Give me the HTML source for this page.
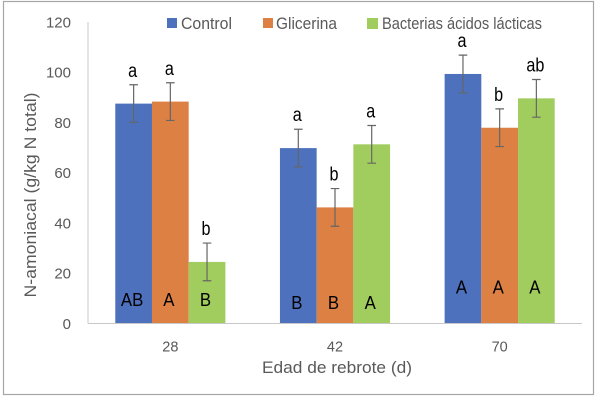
<!DOCTYPE html>
<html lang="es">
<head>
<meta charset="utf-8">
<title>N-amoniacal por edad de rebrote</title>
<style>
html,body{margin:0;padding:0;background:#fff;}
svg{display:block;font-family:"Liberation Sans",sans-serif;filter:blur(0.35px);}
</style>
</head>
<body>
<svg id="chart" xmlns="http://www.w3.org/2000/svg" width="600" height="400" viewBox="0 0 600 400">
  <rect x="3.5" y="1.5" width="590" height="393" fill="#fff" stroke="#a6a6a6" stroke-width="1.2"/>
  <text transform="translate(36,195) rotate(-90)" text-anchor="middle" font-size="16.5" fill="#595959" textLength="205" lengthAdjust="spacingAndGlyphs">N-amoniacal (g/kg N total)</text>
  <text x="337" y="373" text-anchor="middle" font-size="17" fill="#595959" textLength="150" lengthAdjust="spacingAndGlyphs">Edad de rebrote (d)</text>
  <rect x="167" y="18" width="10" height="10" fill="#4e71bd"/>
  <text x="181" y="29" font-size="16.5" fill="#595959" textLength="51" lengthAdjust="spacingAndGlyphs">Control</text>
  <rect x="263" y="18" width="10" height="10" fill="#dd8044"/>
  <text x="276" y="29" font-size="16.5" fill="#595959" textLength="61" lengthAdjust="spacingAndGlyphs">Glicerina</text>
  <rect x="367" y="18" width="11" height="11" fill="#a1cd5f"/>
  <text x="382" y="29" font-size="16.5" fill="#595959" textLength="160" lengthAdjust="spacingAndGlyphs">Bacterias ácidos lácticas</text>
  <g id="plot"></g>
</svg>
<script>
const categories = ['28', '42', '70'];
const yTicks = [0, 20, 40, 60, 80, 100, 120];
const seriesNames = ['control', 'glicerina', 'bacterias'];
const seriesColors = ['#4e71bd', '#dd8044', '#a1cd5f'];
const controlValues = [87.5, 69.8, 99.3];
const glicerinaValues = [88.3, 46.2, 77.9];
const bacteriasValues = [24.5, 71.3, 89.6];
const errorValues = [7.5, 7.5, 7.5];
const controlUpperLetters = ['a', 'a', 'a'];
const glicerinaUpperLetters = ['a', 'b', 'b'];
const bacteriasUpperLetters = ['b', 'a', 'ab'];
const controlLowerLetters = ['AB', 'B', 'A'];
const glicerinaLowerLetters = ['A', 'B', 'A'];
const bacteriasLowerLetters = ['B', 'A', 'A'];
const seriesValues = [controlValues, glicerinaValues, bacteriasValues];
const upperLetters = [controlUpperLetters, glicerinaUpperLetters, bacteriasUpperLetters];
const lowerLetters = [controlLowerLetters, glicerinaLowerLetters, bacteriasLowerLetters];

const plot = document.getElementById('plot');
const NS = 'http://www.w3.org/2000/svg';
const axisLeft = 88, axisRight = 582, baseY = 323.5, pxPerUnit = 2.513, barWidth = 36.7;
const yScale = v => baseY - v * pxPerUnit;
const groupCenter = i => axisLeft + (axisRight - axisLeft) * (i + 0.5) / categories.length;
const barLeft = (i, s) => groupCenter(i) - barWidth * seriesValues.length / 2 + s * barWidth;
const lowerBaseline = i => (i === 0 ? 306 : i === 1 ? 309 : 293.5);

function make(tag, attrs, parent, text) {
  const el = document.createElementNS(NS, tag);
  for (const k in attrs) el.setAttribute(k, attrs[k]);
  if (text !== undefined) el.textContent = text;
  parent.appendChild(el);
  return el;
}

const yAxis = make('line', {x1: axisLeft, x2: axisLeft, y1: yScale(120), y2: baseY, stroke: '#c8c8c8', 'stroke-width': 1}, plot);



yTicks.forEach(t => {
  const label = make('text', {x: 71, y: yScale(t) + 5.5, 'text-anchor': 'end', 'font-size': 15, fill: '#595959'}, plot, String(t));
  
  
});

categories.forEach((c, i) => {
  const label = make('text', {x: groupCenter(i), y: 351.5, 'text-anchor': 'middle', 'font-size': 14.5, fill: '#595959'}, plot, c);
  
  
  seriesValues.forEach((vals, s) => {
    const v = vals[i];
    const e = errorValues[s];
    const x = barLeft(i, s);
    const cx = x + barWidth / 2;
    const bar = make('rect', {x: x, y: yScale(v), width: barWidth, height: baseY - yScale(v), fill: seriesColors[s]}, plot);
    
    

    const err = make('path', {
      d: 'M' + (cx - 4.3) + ' ' + yScale(v + e) + 'H' + (cx + 4.3) +
         'M' + cx + ' ' + yScale(v + e) + 'V' + yScale(v - e) +
         'M' + (cx - 4.3) + ' ' + yScale(v - e) + 'H' + (cx + 4.3),
      fill: 'none', stroke: '#666', 'stroke-width': 1.2
    }, plot);
    
    

    const upText = upperLetters[s][i];
    const up = make('text', {x: cx - 1, y: yScale(v + e) - 8, 'text-anchor': 'middle', 'font-size': 19, fill: '#000', textLength: upText.length * 9, lengthAdjust: 'spacingAndGlyphs'}, plot, upText);
    
    

    const lowText = lowerLetters[s][i];
    const low = make('text', {x: cx - 1.5, y: lowerBaseline(i), 'text-anchor': 'middle', 'font-size': 18, fill: '#000', textLength: lowText.length * 11.2, lengthAdjust: 'spacingAndGlyphs'}, plot, lowText);
    
    
  });
});

const xAxis = make('line', {x1: axisLeft, x2: axisRight, y1: baseY, y2: baseY, stroke: '#c8c8c8', 'stroke-width': 1}, plot);


</script>
</body>
</html>
